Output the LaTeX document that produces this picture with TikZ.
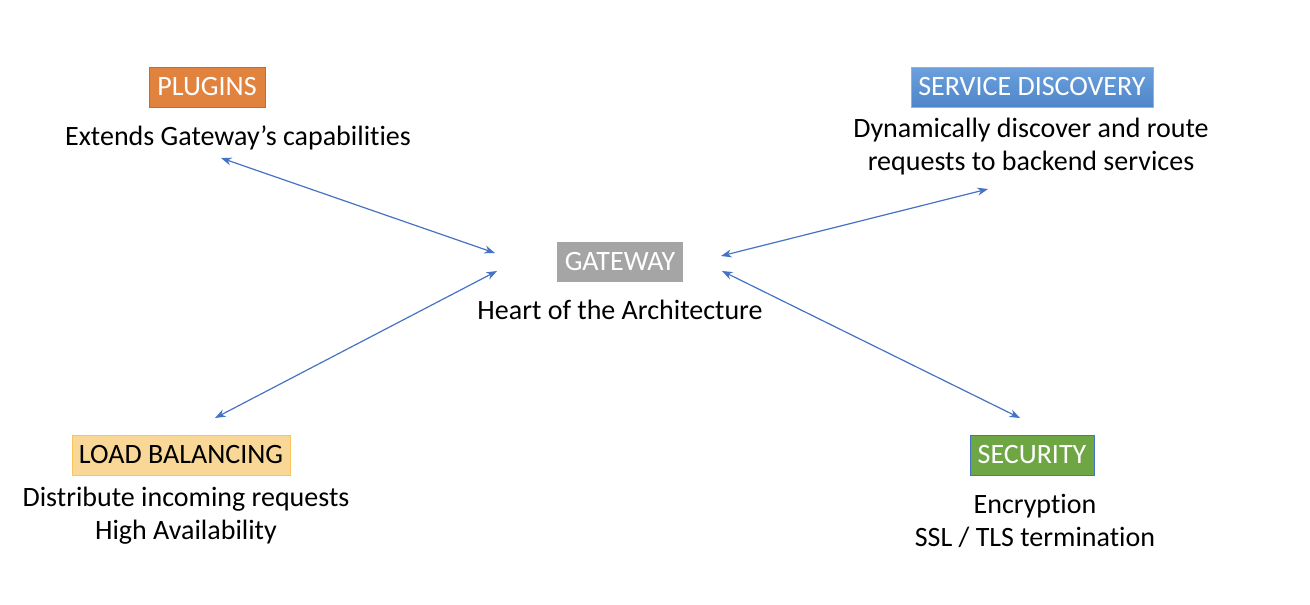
\documentclass[tikz,border=0pt]{standalone}
\usepackage{fontspec}
\setmainfont{Carlito}[Ligatures=NoCommon]
\usetikzlibrary{arrows.meta}
\definecolor{arrowblue}{HTML}{4472C4}
\definecolor{plugorange}{HTML}{E1823F}
\definecolor{plugborder}{HTML}{C86A2A}
\definecolor{sdtop}{HTML}{6DA0DC}
\definecolor{sdbot}{HTML}{4E86C8}
\definecolor{gwgray}{HTML}{A5A5A5}
\definecolor{lbfill}{HTML}{F9D796}
\definecolor{lbborder}{HTML}{F7C55A}
\definecolor{secgreen}{HTML}{6FA644}
\begin{document}
\begin{tikzpicture}[x=0.75pt,y=-0.75pt,
  lbl/.style={inner sep=0pt, font=\fontsize{21}{21}\selectfont, minimum height=30pt},
  desc/.style={align=center, font=\fontsize{21}{24.75}\selectfont, inner sep=0pt},
  link/.style={draw=arrowblue, line width=0.9pt, {Stealth[length=8pt,width=6pt]}-{Stealth[length=8pt,width=6pt]}}]
\useasboundingbox (0,0) rectangle (1310,604);

% labels
\node[lbl, fill=plugorange, draw=plugborder, text=white, minimum width=87pt] (plug) at (207,87) {PLUGINS};
\node[lbl, top color=sdtop, bottom color=sdbot, draw=sdtop!80!white, text=white, minimum width=181.5pt] (sd) at (1032,87) {SERVICE DISCOVERY};
\node[lbl, fill=gwgray, text=white, minimum width=94pt] (gw) at (620,262) {GATEWAY};
\node[lbl, fill=lbfill, draw=lbborder, text=black, minimum width=163.5pt] (lb) at (181,455) {LOAD BALANCING};
\node[lbl, fill=secgreen, draw=arrowblue, text=white, minimum width=93pt] (sec) at (1032,455) {SECURITY};

% descriptions
\node[desc] (plugd) at (238,138) {Extends Gateway’s capabilities};
\node[desc] (sdd) at (1031,147) {Dynamically discover and route\\requests to backend services};
\node[desc] (gwd) at (620,310) {Heart of the Architecture};
\node[desc] (lbd) at (186,516) {Distribute incoming requests\\High Availability};
\node[desc] (secd) at (1035,521) {Encryption\\SSL / TLS termination};

% connector end points
\coordinate (p1) at (221,158);
\coordinate (g1) at (495,253);
\coordinate (s1) at (988,189);
\coordinate (g2) at (721,256);
\coordinate (l1) at (215,418);
\coordinate (g3) at (497,271);
\coordinate (c1) at (1020,418);
\coordinate (g4) at (722,271);

\draw[link] (p1) -- (g1);
\draw[link] (s1) -- (g2);
\draw[link] (l1) -- (g3);
\draw[link] (c1) -- (g4);
\end{tikzpicture}
\end{document}
